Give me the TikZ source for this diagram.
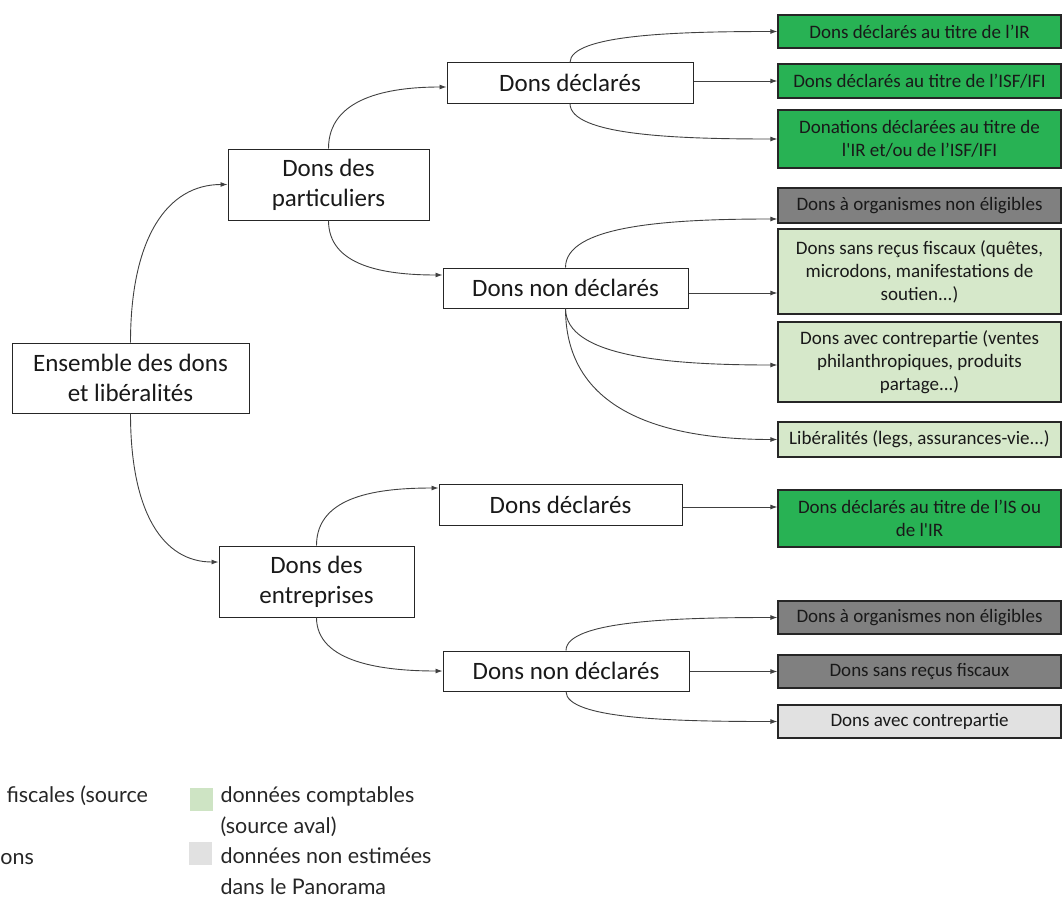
\documentclass[tikz,border=0pt]{standalone}
\usepackage{fontspec}
\setmainfont{Carlito}
\newfontfamily\legendfont{Lato}
\usetikzlibrary{arrows.meta}
\definecolor{fiscgreen}{RGB}{40,178,84}
\definecolor{compgreen}{RGB}{214,232,202}
\definecolor{legendgreen}{RGB}{206,228,196}
\definecolor{darkgrey}{RGB}{128,128,128}
\definecolor{lightgrey}{RGB}{225,225,225}

\begin{document}
\begin{tikzpicture}[x=1pt, y=-1pt, line width=1pt,
    box/.style={draw=black!85, inner sep=0pt, align=center, text=black!90},
    catbox/.style={box, font=\fontsize{25}{30}\selectfont},
    leafbox/.style={box, line width=1.3pt, minimum width=283pt, font=\fontsize{19}{23}\selectfont},
    sized/.style 2 args={minimum width=#1pt, minimum height=#2pt},
    bend/.style 2 args={out distance=#1pt, in distance=#2pt},
    link/.style={draw=black!75, line width=0.9pt, -{Latex[length=7pt, width=5pt]}},
    legendtext/.style={anchor=base west, inner sep=0pt, align=left, font=\legendfont\fontsize{21.5}{31}\selectfont, text=black!85}
  ]
    \useasboundingbox (0, 0) rectangle (1062, 899);

    % draw category boxes
    \node[catbox, sized={237}{70}] (root) at (130.5, 378) {Ensemble des dons\\ et libéralités};
    \node[catbox, sized={201}{71}] (part) at (328.5, 184.5) {Dons des\\ particuliers};
    \node[catbox, sized={195}{71}] (ent) at (316.5, 581.5) {Dons des\\ entreprises};
    \node[catbox, sized={246}{40}] (decA) at (570, 83) {Dons déclarés};
    \node[catbox, sized={245}{40}] (ndecA) at (565.5, 288) {Dons non déclarés};
    \node[catbox, sized={243}{41}] (decB) at (560.5, 504.5) {Dons déclarés};
    \node[catbox, sized={246}{40}] (ndecB) at (566, 671) {Dons non déclarés};

    % draw leaf boxes
    \node[leafbox, fill=fiscgreen, minimum height=33pt] (irA) at (919.5, 31.5) {Dons déclarés au titre de l’IR};
    \node[leafbox, fill=fiscgreen, minimum height=34pt] (isfA) at (919.5, 81) {Dons déclarés au titre de l’ISF/IFI};
    \node[leafbox, fill=fiscgreen, minimum height=58pt] (donA) at (919.5, 139) {Donations déclarées au titre de\\ l\textquotesingle IR et/ou de l’ISF/IFI};
    \node[leafbox, fill=darkgrey, minimum height=35pt] (orgA) at (919.5, 205.5) {Dons à organismes non éligibles};
    \node[leafbox, fill=compgreen, minimum height=85pt] (recuA) at (919.5, 271.5) {Dons sans reçus fiscaux (quêtes,\\ microdons, manifestations de\\ soutien...)};
    \node[leafbox, fill=compgreen, minimum height=80pt] (contA) at (919.5, 362) {Dons avec contrepartie (ventes\\ philanthropiques, produits\\ partage...)};
    \node[leafbox, fill=compgreen, minimum height=35pt] (libA) at (919.5, 439.5) {Libéralités (legs, assurances-vie...)};
    \node[leafbox, fill=fiscgreen, minimum height=57pt] (isB) at (919.5, 518.5) {Dons déclarés au titre de l’IS ou\\ de l\textquotesingle IR};
    \node[leafbox, fill=darkgrey, minimum height=33pt] (orgB) at (919.5, 617.5) {Dons à organismes non éligibles};
    \node[leafbox, fill=darkgrey, minimum height=33pt] (recuB) at (919.5, 671.5) {Dons sans reçus fiscaux};
    \node[leafbox, fill=lightgrey, minimum height=33pt] (contB) at (919.5, 721.5) {Dons avec contrepartie};

    % arrow targets off the box centres
    \coordinate (entIn) at ([yshift=19.5pt]ent.west);
    \coordinate (decAIn) at ([yshift=-4pt]decA.west);
    \coordinate (ndecAIn) at ([yshift=13pt]ndecA.west);
    \coordinate (decBIn) at ([yshift=16.5pt]decB.west);
    \coordinate (orgAIn) at ([yshift=-13.5pt]orgA.west);
    \coordinate (recuAIn) at ([yshift=-21.5pt]recuA.west);
    \coordinate (contAIn) at ([yshift=-3pt]contA.west);
    \coordinate (isBIn) at ([yshift=11.5pt]isB.west);

    % draw connectors
    \draw[link] (root.north) to[out=90, in=180, bend={105}{60}] (part.west);
    \draw[link] (root.south) to[out=-90, in=180, bend={100}{55}] (entIn);
    \draw[link] (part.north) to[out=90, in=180, bend={50}{60}] (decAIn);
    \draw[link] (part.south) to[out=-90, in=180, bend={45}{60}] (ndecAIn);
    \draw[link] (ent.north) to[out=90, in=180, bend={50}{60}] (decBIn);
    \draw[link] (ent.south) to[out=-90, in=180, bend={45}{60}] (ndecB.west);

    \draw[link] (decA.north) to[out=90, in=180, bend={28}{100}] (irA.west);
    \draw[link] (decA.east |- isfA.west) -- (isfA.west);
    \draw[link] (decA.south) to[out=-90, in=180, bend={32}{100}] (donA.west);
    \draw[link] (ndecA.north) to[out=90, in=180, bend={42}{110}] (orgAIn);
    \draw[link] (ndecA.east |- recuAIn) -- (recuAIn);
    \draw[link] (ndecA.south) to[out=-90, in=180, bend={48}{110}] (contAIn);
    \draw[link] (ndecA.south) to[out=-90, in=180, bend={105}{110}] (libA.west);

    \draw[link] (decB.east |- isBIn) -- (isBIn);
    \draw[link] (ndecB.north) to[out=90, in=180, bend={30}{100}] (orgB.west);
    \draw[link] (ndecB.east |- recuB.west) -- (recuB.west);
    \draw[link] (ndecB.south) to[out=-90, in=180, bend={28}{100}] (contB.west);

    % draw legend
    \node[legendtext] (legFisc) at (6, 802) {fiscales (source};
    \node[legendtext] (legFiscB) at (0, 864) {ons};
    \fill[legendgreen] (190, 788) rectangle (213, 811);
    \node[legendtext] (legComp) at (220, 833) {données comptables\\(source aval)};
    \fill[lightgrey] (189, 842) rectangle (212, 865);
    \node[legendtext] (legNon) at (220, 894) {données non estimées\\dans le Panorama};
\end{tikzpicture}
\end{document}
